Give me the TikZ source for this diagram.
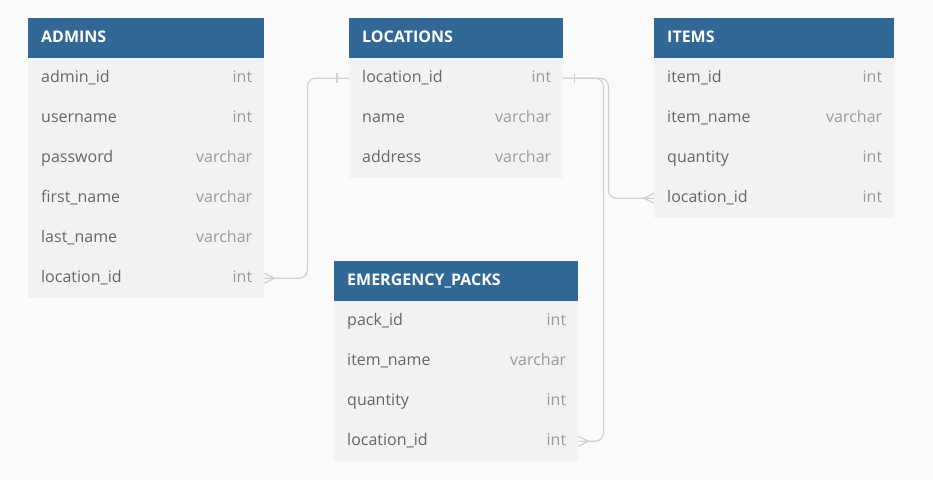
\documentclass[tikz,border=0pt]{standalone}
\usepackage{fontspec}
\setmainfont{Open Sans}
\definecolor{bgc}{HTML}{FAFAFA}
\definecolor{hdrc}{HTML}{316896}
\definecolor{rowc}{HTML}{F2F2F2}
\definecolor{fieldc}{HTML}{666666}
\definecolor{typec}{HTML}{9A9A9A}
\definecolor{connc}{HTML}{D2D2D2}
\tikzset{
  hdrbox/.style={fill=hdrc, draw=none, minimum height=40pt, inner sep=0pt},
  rowbox/.style={fill=rowc, draw=none, minimum height=40pt, inner sep=0pt},
  hdrtxt/.style={inner sep=0pt, text=white, font=\fontsize{16}{19}\selectfont\bfseries},
  fieldtxt/.style={inner sep=0pt, text=fieldc, font=\fontsize{16}{19}\selectfont},
  typetxt/.style={inner sep=0pt, text=typec, font=\fontsize{16}{19}\selectfont},
  conn/.style={draw=connc, line width=1.3pt, rounded corners=8pt},
  tick/.style={draw=connc, line width=1.3pt}
}
% #1 name, #2 x, #3 y top, #4 width, #5 title
\newcommand\ehead[5]{%
  \node[hdrbox, minimum width=#4pt, anchor=north west] (#1) at (#2,#3) {};
  \node[hdrtxt, anchor=base west] (#1-t) at ([xshift=13pt,yshift=-4.5pt]#1.west) {#5};}
% #1 name, #2 x, #3 y top, #4 width, #5 field, #6 type
\newcommand\erow[6]{%
  \node[rowbox, minimum width=#4pt, anchor=north west] (#1) at (#2,#3) {};
  \node[fieldtxt, anchor=base west] (#1-f) at ([xshift=13pt,yshift=-4.5pt]#1.west) {#5};
  \node[typetxt, anchor=base east] (#1-t) at ([xshift=-12pt,yshift=-4.5pt]#1.east) {#6};}
\begin{document}
\begin{tikzpicture}[x=1pt,y=-1pt]
\fill[bgc] (0,0) rectangle (933,480);
\useasboundingbox (0,0) rectangle (933,480);
% ADMINS
\ehead{a0}{28}{18}{236}{ADMINS}
\erow{a1}{28}{58}{236}{admin\_id}{int}
\erow{a2}{28}{98}{236}{username}{int}
\erow{a3}{28}{138}{236}{password}{varchar}
\erow{a4}{28}{178}{236}{first\_name}{varchar}
\erow{a5}{28}{218}{236}{last\_name}{varchar}
\erow{a6}{28}{258}{236}{location\_id}{int}
% LOCATIONS
\ehead{l0}{349}{18}{214}{LOCATIONS}
\erow{l1}{349}{58}{214}{location\_id}{int}
\erow{l2}{349}{98}{214}{name}{varchar}
\erow{l3}{349}{138}{214}{address}{varchar}
% ITEMS
\ehead{i0}{654}{18}{240}{ITEMS}
\erow{i1}{654}{58}{240}{item\_id}{int}
\erow{i2}{654}{98}{240}{item\_name}{varchar}
\erow{i3}{654}{138}{240}{quantity}{int}
\erow{i4}{654}{178}{240}{location\_id}{int}
% EMERGENCY_PACKS
\ehead{e0}{334}{261}{244}{EMERGENCY\_PACKS}
\erow{e1}{334}{301}{244}{pack\_id}{int}
\erow{e2}{334}{341}{244}{item\_name}{varchar}
\erow{e3}{334}{381}{244}{quantity}{int}
\erow{e4}{334}{421}{244}{location\_id}{int}
% connectors
\draw[conn] (a6.east) -- ++(43pt,0) |- (l1.west);
\draw[tick] ([yshift=-5pt]a6.east) -- ([xshift=10pt]a6.east) -- ([yshift=5pt]a6.east);
\draw[tick] ([xshift=-12pt,yshift=-5pt]l1.west) -- ([xshift=-12pt,yshift=5pt]l1.west);
\draw[conn] (l1.east) -- ++(45pt,0) |- (i4.west);
\draw[tick] ([yshift=-5pt]i4.west) -- ([xshift=-10pt]i4.west) -- ([yshift=5pt]i4.west);
\draw[conn] (l1.east) -- ++(40pt,0) |- (e4.east);
\draw[tick] ([yshift=-5pt]e4.east) -- ([xshift=10pt]e4.east) -- ([yshift=5pt]e4.east);
\draw[tick] ([xshift=11pt,yshift=-5pt]l1.east) -- ([xshift=11pt,yshift=5pt]l1.east);
\end{tikzpicture}
\end{document}
